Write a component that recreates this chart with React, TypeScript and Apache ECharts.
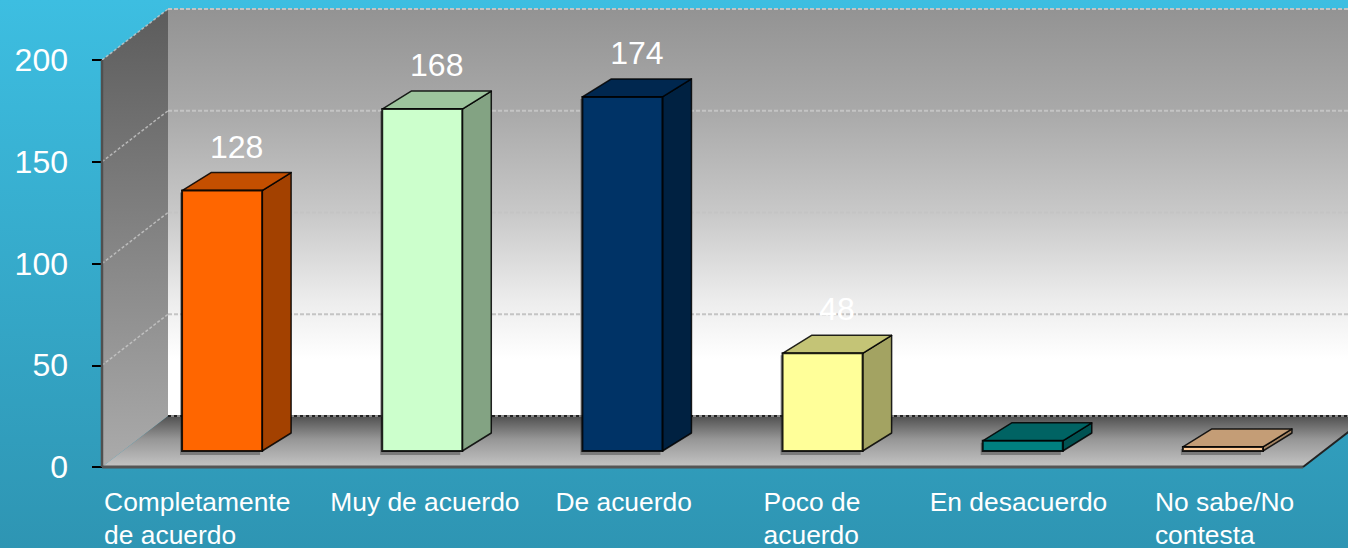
import React, { useEffect, useRef } from "react";
import * as echarts from "echarts";

// ---------- data ----------
const categories = [
  "Completamente de acuerdo",
  "Muy de acuerdo",
  "De acuerdo",
  "Poco de acuerdo",
  "En desacuerdo",
  "No sabe/No contesta",
];
const categoryLines = [
  ["Completamente", "de acuerdo"],
  ["Muy de acuerdo"],
  ["De acuerdo"],
  ["Poco de", "acuerdo"],
  ["En desacuerdo"],
  ["No sabe/No", "contesta"],
];
const values = [128, 168, 174, 48, 5, 2];
const barColors = ["#FF6600", "#CCFFCC", "#003366", "#FFFF99", "#008080", "#FFCC99"];
const yTicks = [0, 50, 100, 150, 200];

// ---------- styling ----------
const FONT = "'Liberation Sans', Arial, Helvetica, sans-serif";
const WALL_DX = 66;
const WALL_DY = -51;
const BAR_OX = 20;
const BAR_OY = -16;
const BAR_DX = 29;
const BAR_DY = -18;
const BAR_W_RATIO = 0.4;
const labelShift = [-98, -72, -47, -39, -73, -48];

function shade(hex: string, f: number) {
  const n = parseInt(hex.slice(1), 16);
  const r = Math.round(((n >> 16) & 255) * f);
  const g = Math.round(((n >> 8) & 255) * f);
  const b = Math.round((n & 255) * f);
  return `rgb(${r},${g},${b})`;
}

const yMin = yTicks[0];
const yMax = yTicks[yTicks.length - 1];
const yInterval = yTicks[1] - yTicks[0];

function renderFrame(params: any, api: any) {
  const band = api.size([1, 0])[0];
  const n = categories.length;
  const left = api.coord([0, 0])[0] - band / 2;
  const right = left + band * n;
  const yv = (v: number) => api.coord([0, v])[1];
  const y0 = yv(yMin);
  const yT = yv(yMax);
  const bx = (x: number) => x + WALL_DX;
  const by = (y: number) => y + WALL_DY;

  const backGrad = new echarts.graphic.LinearGradient(0, 0, 0, 1, [
    { offset: 0, color: "#939393" },
    { offset: 0.25, color: "#A9A9A9" },
    { offset: 0.5, color: "#C8C8C8" },
    { offset: 0.72, color: "#EDEDED" },
    { offset: 0.86, color: "#FFFFFF" },
    { offset: 1, color: "#FFFFFF" },
  ]);
  const sideGrad = new echarts.graphic.LinearGradient(0, 0, 0, 1, [
    { offset: 0, color: "#5C5C5C" },
    { offset: 1, color: "#ABABAB" },
  ]);
  const floorGrad = new echarts.graphic.LinearGradient(0, 0, 0, 1, [
    { offset: 0, color: "#505050" },
    { offset: 0.45, color: "#969696" },
    { offset: 1, color: "#C4C4C4" },
  ]);

  const children: any[] = [];
  children.push({
    type: "polygon",
    shape: { points: [[bx(left), by(yT)], [bx(right), by(yT)], [bx(right), by(y0)], [bx(left), by(y0)]] },
    style: { fill: backGrad },
  });
  children.push({
    type: "polygon",
    shape: { points: [[left, yT], [bx(left), by(yT)], [bx(left), by(y0)], [left, y0]] },
    style: { fill: sideGrad },
  });
  children.push({
    type: "polygon",
    shape: { points: [[left, y0], [right, y0], [bx(right), by(y0)], [bx(left), by(y0)]] },
    style: { fill: floorGrad },
  });
  yTicks.forEach((v) => {
    if (v === yMin) return;
    const yf = yv(v);
    children.push({
      type: "line",
      shape: { x1: left, y1: yf, x2: bx(left), y2: by(yf) },
      style: { stroke: "rgba(205,205,205,0.75)", lineWidth: 1.5, lineDash: [3, 2] },
    });
    children.push({
      type: "line",
      shape: { x1: bx(left), y1: by(yf), x2: bx(right), y2: by(yf) },
      style: { stroke: "#C4C4C4", lineWidth: 2, lineDash: [4, 2] },
    });
  });
  children.push({
    type: "line",
    shape: { x1: bx(left), y1: by(y0), x2: bx(right), y2: by(y0) },
    style: { stroke: "#8A8A8A", lineWidth: 2 },
  });
  children.push({
    type: "line",
    shape: { x1: bx(left), y1: by(y0), x2: bx(right), y2: by(y0) },
    style: { stroke: "#222", lineWidth: 2, lineDash: [3, 3] },
  });
  children.push({
    type: "line",
    shape: { x1: left, y1: yT, x2: left, y2: y0 },
    style: { stroke: "#505050", lineWidth: 2.5 },
  });
  children.push({
    type: "line",
    shape: { x1: left, y1: y0, x2: right, y2: y0 },
    style: { stroke: "#555", lineWidth: 3 },
  });
  children.push({
    type: "line",
    shape: { x1: right, y1: y0, x2: bx(right), y2: by(y0) },
    style: { stroke: "#222", lineWidth: 2 },
  });
  return { type: "group", children };
}

function renderBar(params: any, api: any) {
  const i = api.value(0);
  const v = api.value(1);
  const band = api.size([1, 0])[0];
  const w = band * BAR_W_RATIO;
  const top = api.coord([i, v]);
  const base = api.coord([i, 0]);
  const cx = top[0] + BAR_OX;
  const xl = cx - w / 2;
  const xr = cx + w / 2;
  const yt = top[1] + BAR_OY;
  const yb = base[1] + BAR_OY;
  const c = barColors[i];
  const edge = "rgba(0,0,0,0.85)";
  return {
    type: "group",
    children: [
      {
        type: "rect",
        shape: { x: xl - 2, y: yt + 2, width: w, height: yb - yt + 2 },
        style: { fill: "rgba(60,60,60,0.45)" },
      },
      {
        type: "polygon",
        shape: { points: [[xr, yt], [xr + BAR_DX, yt + BAR_DY], [xr + BAR_DX, yb + BAR_DY], [xr, yb]] },
        style: { fill: shade(c, 0.64), stroke: edge, lineWidth: 1.5, lineJoin: "round" },
      },
      {
        type: "polygon",
        shape: { points: [[xl, yt], [xr, yt], [xr + BAR_DX, yt + BAR_DY], [xl + BAR_DX, yt + BAR_DY]] },
        style: { fill: shade(c, 0.77), stroke: edge, lineWidth: 1.5, lineJoin: "round" },
      },
      {
        type: "rect",
        shape: { x: xl, y: yt, width: w, height: yb - yt },
        style: { fill: c, stroke: edge, lineWidth: 2 },
      },
      {
        type: "text",
        x: cx + BAR_DX / 2,
        y: yt + BAR_DY - 26,
        style: {
          text: String(v),
          fill: "#FFFFFF",
          fontSize: 32,
          fontFamily: FONT,
          align: "center",
          verticalAlign: "middle",
        },
      },
    ],
  };
}

const rich: Record<string, any> = {};
categoryLines.forEach((_, i) => {
  rich["c" + i] = {
    width: -2 * labelShift[i],
    align: "left",
    color: "#FFFFFF",
    fontSize: 26.4,
    lineHeight: 33,
    fontFamily: FONT,
  };
});

const option: any = {
  animation: false,
  backgroundColor: new echarts.graphic.LinearGradient(0, 0, 0, 1, [
    { offset: 0, color: "#3DBEE1" },
    { offset: 1, color: "#2E95B3" },
  ]),
  grid: { left: 102, right: 45, top: 60, bottom: 81, outerBoundsMode: "none", containLabel: false },
  xAxis: {
    type: "category",
    data: categories,
    axisLine: { show: false },
    axisTick: { show: false },
    axisLabel: {
      interval: 0,
      margin: 18,
      color: "#FFFFFF",
      fontSize: 26.4,
      lineHeight: 33,
      fontFamily: FONT,
      formatter: (_v: string, idx: number) =>
        categoryLines[idx].map((l) => `{c${idx}|${l}}`).join("\n"),
      rich,
    },
    splitLine: { show: false },
  },
  yAxis: {
    type: "value",
    min: yMin,
    max: yMax,
    interval: yInterval,
    axisLine: { show: false },
    axisTick: { show: true, length: 10, lineStyle: { color: "#000", width: 2 } },
    axisLabel: { margin: 34, color: "#FFFFFF", fontSize: 32, fontFamily: FONT },
    splitLine: { show: false },
  },
  series: [
    {
      type: "custom",
      z: 1,
      silent: true,
      clip: false,
      renderItem: renderFrame,
      data: [[0, 0]],
      encode: { x: 0, y: 1 },
    },
    {
      type: "custom",
      z: 3,
      clip: false,
      renderItem: renderBar,
      data: values.map((v, i) => [i, v]),
      encode: { x: 0, y: 1 },
    },
  ],
};

export default function App() {
  const ref = useRef<HTMLDivElement>(null);
  useEffect(() => {
    const chart = echarts.init(ref.current!, null, { renderer: "svg" });
    chart.setOption(option);
    return () => chart.dispose();
  }, []);
  return (
    <div
      ref={ref}
      style={{ position: "fixed", left: 0, top: 0, width: 1348, height: 548 }}
    />
  );
}
